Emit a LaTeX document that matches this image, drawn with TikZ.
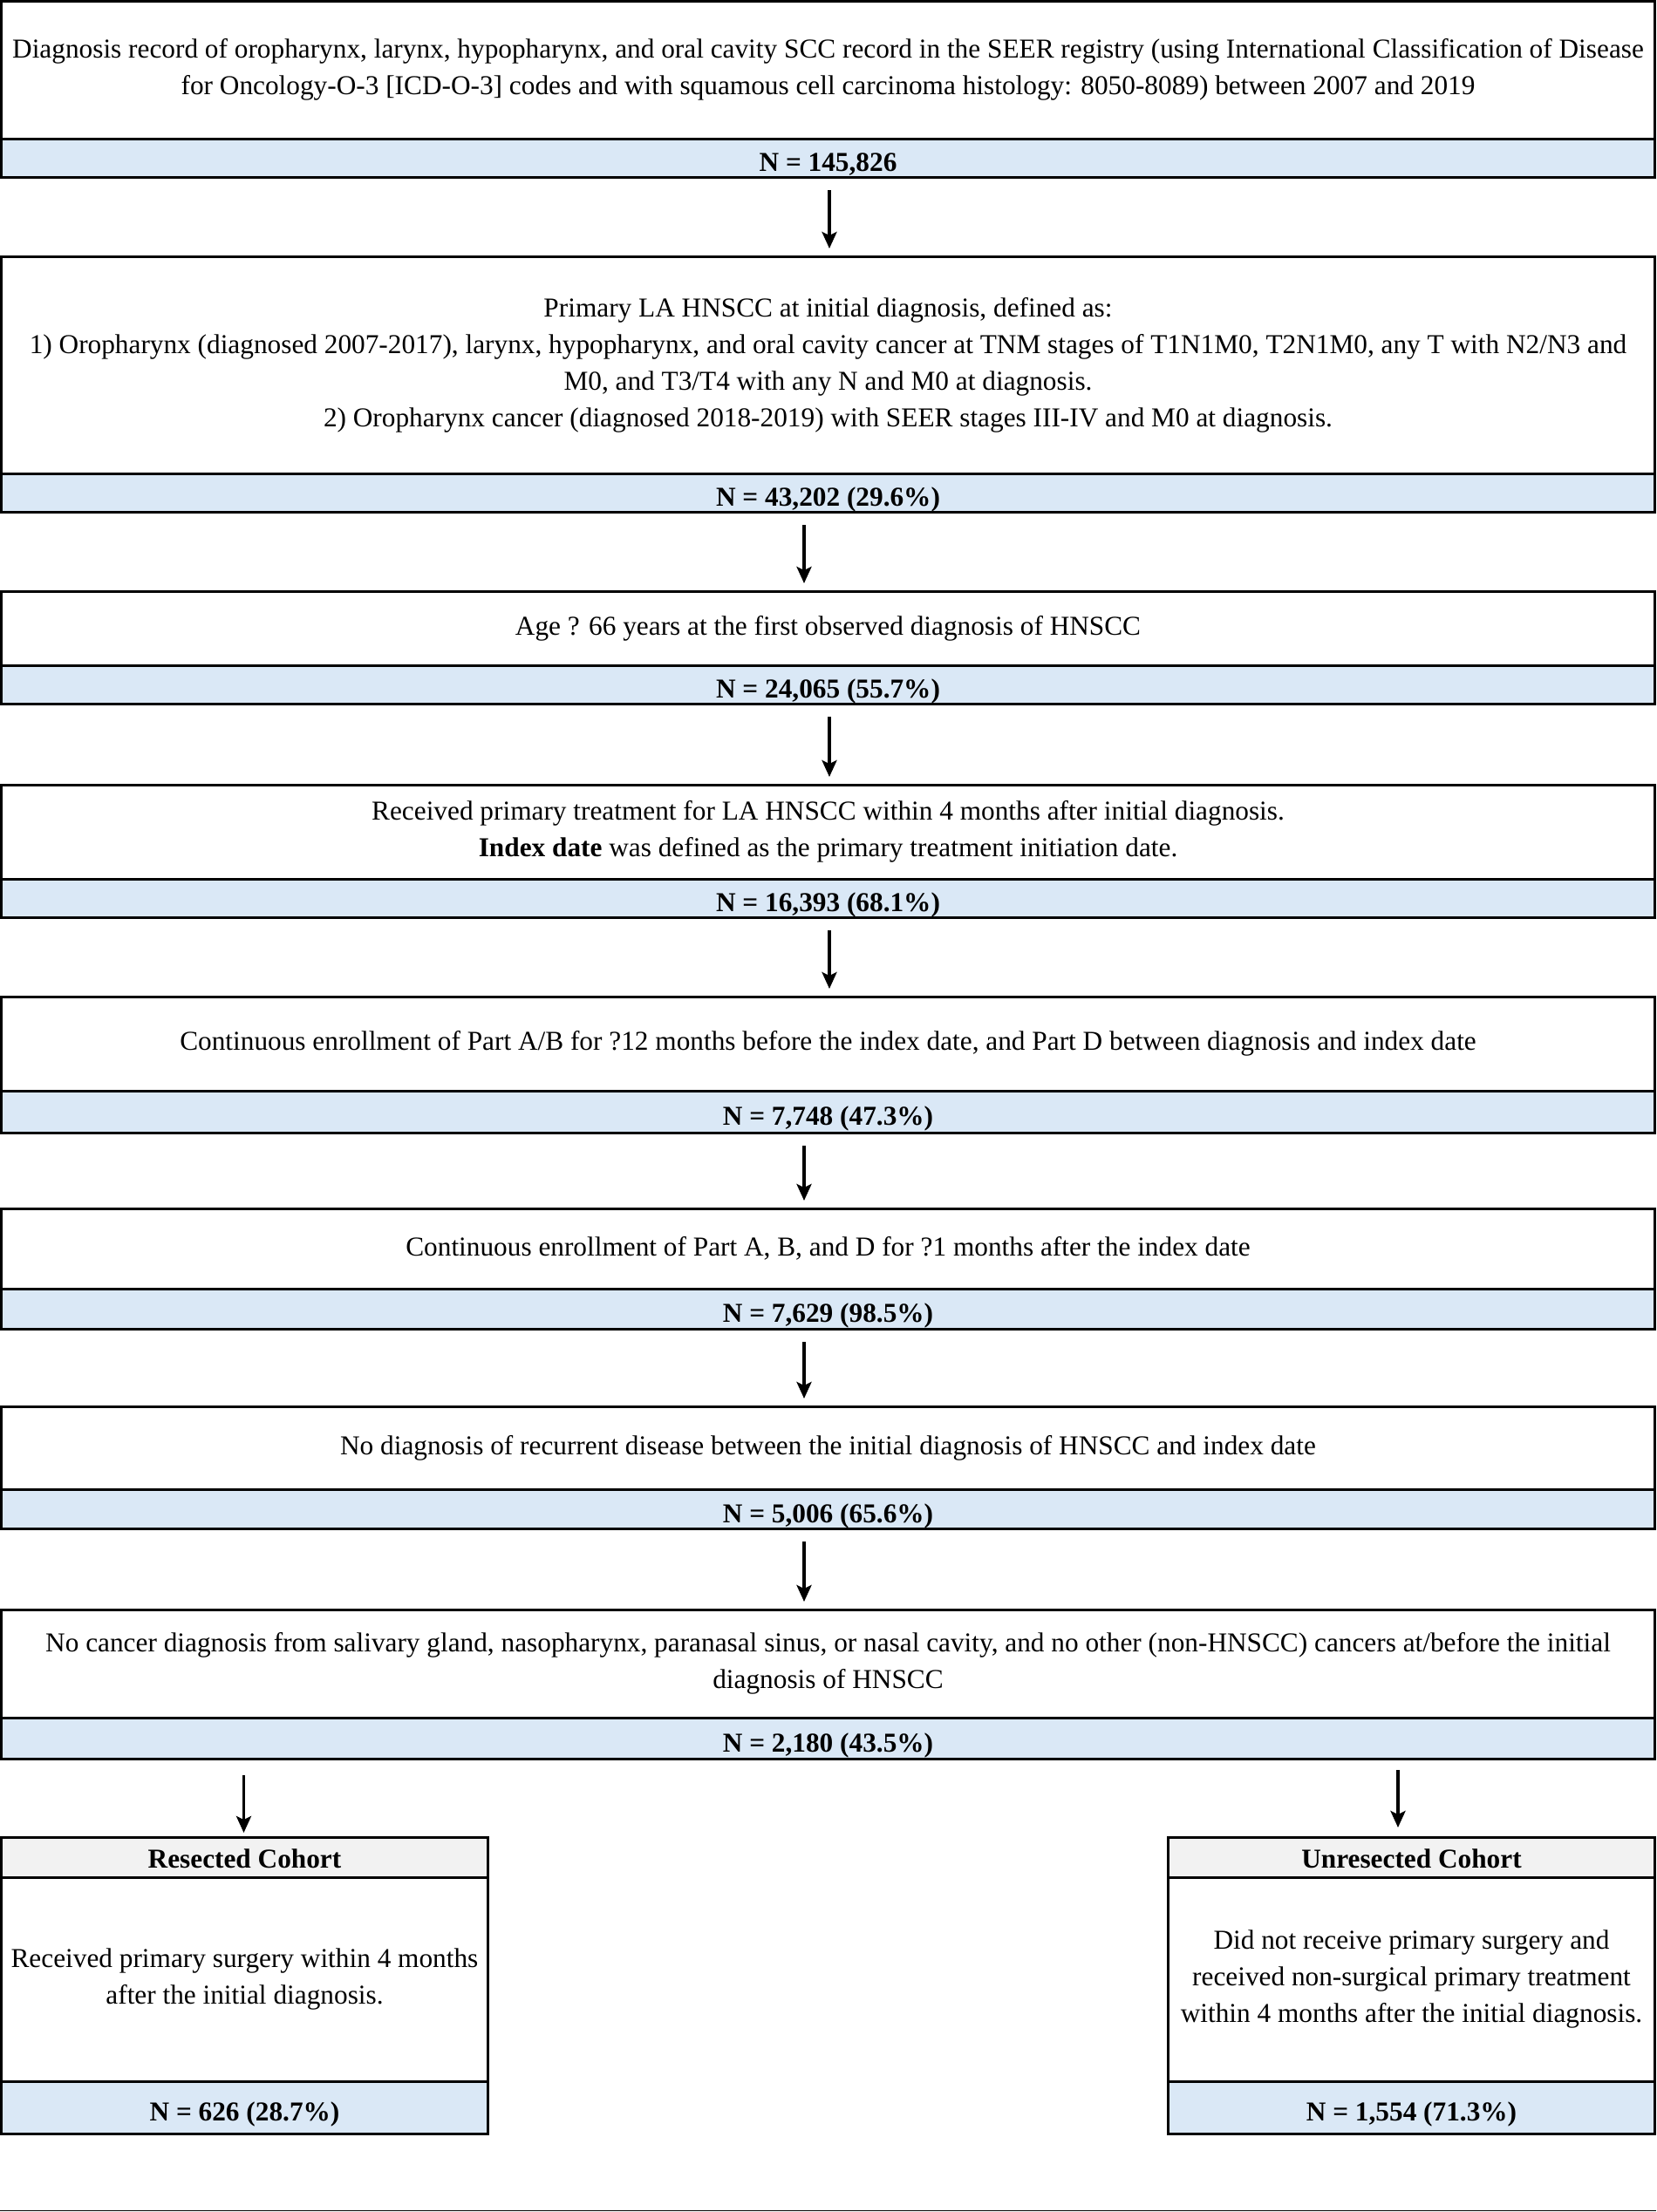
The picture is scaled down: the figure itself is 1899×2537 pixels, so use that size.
\documentclass[tikz,border=0pt]{standalone}
\usepackage{fontspec}
\setmainfont{Liberation Serif}
\usepackage{xcolor}
\usetikzlibrary{arrows.meta,positioning}
\definecolor{countblue}{RGB}{218,232,246}
\definecolor{headgray}{RGB}{242,242,242}
\newcommand{\boxfont}{\fontsize{31.3}{42}\selectfont}
\tikzstyle{crit} = [rectangle, draw, line width=3pt, align=center, outer sep=0pt,
    minimum width=1896pt, inner sep=2pt, font=\boxfont]
\tikzstyle{count} = [rectangle, draw, line width=3pt, fill=countblue, outer sep=0pt,
    minimum width=1896pt, minimum height=44pt, inner sep=0pt,
    text height=31pt, text depth=0pt, font=\boxfont\bfseries]
\tikzstyle{head} = [rectangle, draw, line width=3pt, fill=headgray, outer sep=0pt,
    minimum width=558pt, minimum height=46pt, inner sep=0pt,
    text height=25pt, text depth=0pt, font=\boxfont\bfseries]
\tikzstyle{cbody} = [rectangle, draw, line width=3pt, align=center, outer sep=0pt,
    minimum width=558pt, minimum height=234pt, inner sep=0pt, font=\boxfont]
\tikzstyle{ccount} = [count, minimum width=558pt, minimum height=60pt]
\tikzstyle{arrow} = [-{Stealth[length=19pt,width=17pt,inset=4pt]},
    line width=3.5pt, shorten <=15pt, shorten >=9pt]

\begin{document}
\begin{tikzpicture}
    \useasboundingbox (0,0) rectangle (1899pt,-2537pt);
    % Place nodes
    \node [crit, minimum height=157.5pt, anchor=north] (t1) at (949.5pt,-1.5pt)
    {Diagnosis record of oropharynx, larynx, hypopharynx, and oral cavity SCC record in the SEER registry (using International Classification of Disease\\
     for Oncology-O-3 [ICD-O-3] codes and with squamous cell carcinoma histology: 8050-8089) between 2007 and 2019};
    \node [count, below=0pt of t1] (n1) {N = 145,826};
    \node [crit, minimum height=249pt, below=91pt of n1] (t2)
    {Primary LA HNSCC at initial diagnosis, defined as:\\
     1) Oropharynx (diagnosed 2007-2017), larynx, hypopharynx, and oral cavity cancer at TNM stages of T1N1M0, T2N1M0, any T with N2/N3 and\\
     M0, and T3/T4 with any N and M0 at diagnosis.\\
     2) Oropharynx cancer (diagnosed 2018-2019) with SEER stages III-IV and M0 at diagnosis.};
    \node [count, below=0pt of t2] (n2) {N = 43,202 (29.6\%)};
    \node [crit, minimum height=85pt, below=91pt of n2] (t3)
    {Age ? 66 years at the first observed diagnosis of HNSCC};
    \node [count, below=0pt of t3] (n3) {N = 24,065 (55.7\%)};
    \node [crit, minimum height=108pt, below=93pt of n3] (t4)
    {Received primary treatment for LA HNSCC within 4 months after initial diagnosis.\\
     \textbf{Index date} was defined as the primary treatment initiation date.};
    \node [count, below=0pt of t4] (n4) {N = 16,393 (68.1\%)};
    \node [crit, minimum height=108pt, below=91pt of n4] (t5)
    {Continuous enrollment of Part A/B for ?12 months before the index date, and Part D between diagnosis and index date};
    \node [count, minimum height=48pt, below=0pt of t5] (n5) {N = 7,748 (47.3\%)};
    \node [crit, minimum height=92pt, below=87pt of n5] (t6)
    {Continuous enrollment of Part A, B, and D for ?1 months after the index date};
    \node [count, minimum height=46pt, below=0pt of t6] (n6) {N = 7,629 (98.5\%)};
    \node [crit, minimum height=95pt, below=89pt of n6] (t7)
    {No diagnosis of recurrent disease between the initial diagnosis of HNSCC and index date};
    \node [count, minimum height=45pt, below=0pt of t7] (n7) {N = 5,006 (65.6\%)};
    \node [crit, minimum height=124pt, below=93pt of n7] (t8)
    {No cancer diagnosis from salivary gland, nasopharynx, paranasal sinus, or nasal cavity, and no other (non-HNSCC) cancers at/before the initial\\
     diagnosis of HNSCC};
    \node [count, minimum height=47pt, below=0pt of t8] (n8) {N = 2,180 (43.5\%)};
    % Cohorts
    \node [head, below=90pt of n8.south west, anchor=north west] (h1) {Resected Cohort};
    \node [cbody, below=0pt of h1] (b1)
    {Received primary surgery within 4 months\\ after the initial diagnosis.};
    \node [ccount, below=0pt of b1] (c1) {N = 626 (28.7\%)};
    \node [head, below=90pt of n8.south east, anchor=north east] (h2) {Unresected Cohort};
    \node [cbody, below=0pt of h2] (b2)
    {Did not receive primary surgery and\\ received non-surgical primary treatment\\ within 4 months after the initial diagnosis.};
    \node [ccount, below=0pt of b2] (c2) {N = 1,554 (71.3\%)};
    % Draw edges
    \draw [arrow] ([xshift=1.5pt]n1.south) -- ([xshift=1.5pt]t2.north);
    \draw [arrow] ([xshift=-27.5pt]n2.south) -- ([xshift=-27.5pt]t3.north);
    \draw [arrow] ([xshift=1.5pt]n3.south) -- ([xshift=1.5pt]t4.north);
    \draw [arrow] ([xshift=1.5pt]n4.south) -- ([xshift=1.5pt]t5.north);
    \draw [arrow] ([xshift=-27.5pt]n5.south) -- ([xshift=-27.5pt]t6.north);
    \draw [arrow] ([xshift=-27.5pt]n6.south) -- ([xshift=-27.5pt]t7.north);
    \draw [arrow] ([xshift=-27.5pt]n7.south) -- ([xshift=-27.5pt]t8.north);
    \draw [arrow, shorten <=19pt, shorten >=5pt]
        ([xshift=-1pt]h1.north |- n8.south) -- ([xshift=-1pt]h1.north);
    \draw [arrow, shorten <=13pt, shorten >=11pt]
        ([xshift=-15.5pt]h2.north |- n8.south) -- ([xshift=-15.5pt]h2.north);
    % Bottom rule
    \draw [line width=1.5pt] (0,-2535.5pt) -- (1899pt,-2535.5pt);
\end{tikzpicture}
\end{document}
